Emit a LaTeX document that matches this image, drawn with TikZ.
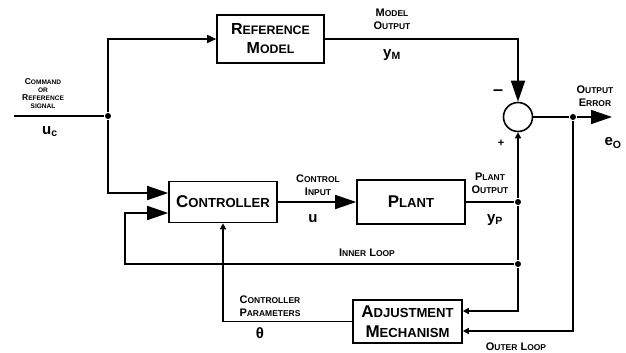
\documentclass[tikz,border=0pt]{standalone}
\usepackage{fontspec}
\setmainfont{Liberation Sans}
\usepackage{graphicx}
\usetikzlibrary{arrows.meta,positioning}

\newcommand{\smc}[2]{#1\scalebox{0.77}{#2}}

\tikzset{
  blk/.style={draw, line width=1.6pt, font=\fontsize{17}{20}\selectfont\bfseries, align=center, inner sep=0pt},
  lbl/.style={font=\fontsize{11}{13}\selectfont\bfseries, align=center, inner sep=0pt},
  tinylbl/.style={font=\fontsize{8.5}{8}\selectfont\bfseries, align=center, inner sep=0pt},
  sig/.style={font=\fontsize{15}{15}\selectfont\bfseries, inner sep=0pt},
  jn/.style={circle, fill, inner sep=0pt, minimum size=6pt},
  bigtip/.style={-{Triangle[length=21pt,width=14pt]}},
  midtip/.style={-{Triangle[length=9pt,width=8pt]}},
  smtip/.style={-{Triangle[length=6pt,width=6pt]}},
}

\begin{document}
\begin{tikzpicture}[x=1pt,y=-1pt,line width=1.6pt]
  \useasboundingbox (0,0) rectangle (626,353);
  % blocks
  \node[blk, minimum width=107pt, minimum height=48pt, font=\fontsize{16}{19}\selectfont\bfseries] (refm) at (270.5,39) {\smc{R}{EFERENCE}\\\smc{M}{ODEL}};
  \node[blk, minimum width=108pt, minimum height=41pt] (ctrl) at (223,202) {\smc{C}{ONTROLLER}};
  \node[blk, minimum width=108pt, minimum height=44pt] (plant) at (411,202) {\smc{P}{LANT}};
  \node[blk, minimum width=109pt, minimum height=43pt] (adj) at (407.5,321.5) {\smc{A}{DJUSTMENT}\\\smc{M}{ECHANISM}};
  \node[draw, circle, minimum size=29pt, inner sep=0pt] (sum) at (518,117) {};

  % junctions
  \coordinate (in) at (14,116);
  \node[jn] (j1) at (108,116) {};
  \node[jn] (j2) at (518,202) {};
  \node[jn] (j3) at (573,117) {};
  \node[jn] (j4) at (518,264) {};
  \coordinate (eo) at (612,117);
  \coordinate (ilc) at (125,264);

  % signals
  \draw (in) -- (j1);
  \draw[midtip] (j1) |- (refm.west);
  \draw[bigtip] (j1) |- ([yshift=9pt]ctrl.west);
  \draw[bigtip] (refm.east) -| (sum.north);
  \draw (sum.east) -- (j3);
  \draw[bigtip] (j3) -- (eo);
  \draw[bigtip] (ctrl.east) -- (plant.west);
  \draw (plant.east) -- (j2);
  \draw[smtip] (j2) -- (sum.south);
  \draw (j2) -- (j4);
  \draw[bigtip] (j4) -- (ilc) |- ([yshift=-11pt]ctrl.west);
  \draw[smtip] (j4) |- ([yshift=10.5pt]adj.east);
  \draw[smtip] (j3) |- ([yshift=-9.5pt]adj.east);
  \draw[smtip] (adj.west) -| (ctrl.south);

  % labels
  \node[tinylbl] (cmd) at (43,94) {\smc{C}{OMMAND}\\\scalebox{0.77}{OR}\\\smc{R}{EFERENCE}\\\scalebox{0.77}{SIGNAL}};
  \node[sig] (uc) at (50,132) {u\textsubscript{c}};
  \node[lbl] (mout) at (392,19) {\smc{M}{ODEL}\\\smc{O}{UTPUT}};
  \node[sig] (ym) at (392,55) {y\textsubscript{M}};
  \node[lbl] (cin) at (318,185) {\smc{C}{ONTROL}\\\smc{I}{NPUT}};
  \node[sig] (u) at (313,219) {u};
  \node[lbl] (pout) at (490,183) {\smc{P}{LANT}\\\smc{O}{UTPUT}};
  \node[sig] (yp) at (495,220) {y\textsubscript{P}};
  \node[lbl] (oerr) at (595,96) {\smc{O}{UTPUT}\\\smc{E}{RROR}};
  \node[sig] (eO) at (613,143) {e\textsubscript{O}};
  \node[lbl] (iloop) at (367,253) {\smc{I}{NNER} \smc{L}{OOP}};
  \node[lbl] (cpar) at (270,306) {\smc{C}{ONTROLLER}\\\smc{P}{ARAMETERS}};
  \node[sig] (th) at (260,333) {θ};
  \node[lbl] (oloop) at (516,347) {\smc{O}{UTER} \smc{L}{OOP}};
  \node[font=\fontsize{18}{18}\selectfont\bfseries] (minus) at (498,93) {–};
  \node[font=\fontsize{11}{11}\selectfont\bfseries] (plus) at (501,143) {+};
\end{tikzpicture}
\end{document}
